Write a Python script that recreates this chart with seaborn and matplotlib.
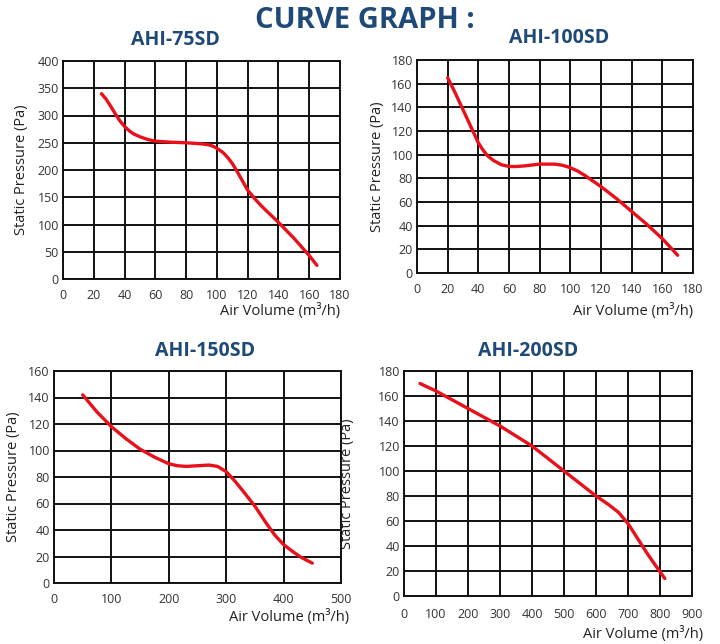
import matplotlib
matplotlib.use("Agg")
import matplotlib.pyplot as plt
import seaborn as sns
import pandas as pd

# values
x_75 = [25, 28, 31, 34, 37, 40, 43, 46, 50, 55, 60, 70, 80, 90, 95, 98, 101, 104, 107, 110, 113, 116, 120, 125, 130, 140, 150, 160, 165]
y_75 = [340, 330, 317, 303, 290, 280, 272, 266, 261, 256, 253, 251, 250, 248, 246, 243, 238, 232, 223, 212, 198, 183, 163, 146, 131, 104, 75, 43, 25]

x_100 = [20, 25, 30, 35, 40, 43, 46, 50, 55, 60, 65, 70, 80, 90, 95, 100, 105, 110, 120, 130, 140, 150, 160, 170]
y_100 = [165, 152, 138, 124, 110, 104, 99, 95, 91.5, 90, 90, 90.5, 92, 92, 91, 89, 86, 82, 73, 63, 52, 41, 29, 15]

x_150 = [50, 75, 100, 125, 150, 175, 200, 215, 230, 250, 270, 285, 300, 315, 330, 350, 370, 385, 400, 415, 430, 450]
y_150 = [142, 129, 118, 109, 101, 95, 90, 88.5, 88, 88.5, 89, 88, 84, 77, 69, 58, 45, 36, 29, 24, 19.5, 15]

x_200 = [50, 100, 200, 300, 350, 400, 450, 500, 550, 600, 640, 670, 700, 730, 760, 790, 815]
y_200 = [170, 164, 150, 136, 128, 120, 110, 100, 90, 80, 73, 67, 58, 46, 34, 23, 14]

titles = ["AHI-75SD", "AHI-100SD", "AHI-150SD", "AHI-200SD"]
x_ticks = [range(0, 181, 20), range(0, 181, 20), range(0, 501, 100), range(0, 901, 100)]
y_ticks = [range(0, 401, 50), range(0, 181, 20), range(0, 161, 20), range(0, 181, 20)]

sns.set_style("white")
plt.rcParams['font.family'] = ['Open Sans', 'DejaVu Sans']

W, H = 720, 644
fig = plt.figure(figsize=(7.2, 6.44), dpi=100)
navy = "#1f4a78"

fig.text(365 / W, 1 - 20 / H, "CURVE GRAPH :", ha="center", va="center",
         fontsize=21, fontweight="bold", color=navy)

# axes boxes in pixels: left, top, right, bottom
boxes = [(63, 61, 340, 279), (417, 60, 693, 273), (54, 371, 341, 583), (404, 371, 692, 596)]
title_pos = [(175, 40), (559, 38), (205, 351), (528, 351)]
xlabel_pos = [(340, 311), (693, 311), (349, 617), (703, 634)]
ylabel_x = [22, 378, 14, 347]
data = [(x_75, y_75), (x_100, y_100), (x_150, y_150), (x_200, y_200)]

for i in range(4):
    l, t, r, b = boxes[i]
    ax = fig.add_axes([l / W, 1 - b / H, (r - l) / W, (b - t) / H])
    df = pd.DataFrame({"x": data[i][0], "y": data[i][1]})
    sns.lineplot(data=df, x="x", y="y", ax=ax, color="#e8101a", linewidth=2.4, zorder=5)
    ax.lines[-1].set_solid_joinstyle("round")
    xt, yt = list(x_ticks[i]), list(y_ticks[i])
    ax.set_xlim(xt[0], xt[-1])
    ax.set_ylim(yt[0], yt[-1])
    ax.set_xticks(xt)
    ax.set_yticks(yt)
    ax.grid(True, color="#111111", linewidth=1.4)
    for s in ax.spines.values():
        s.set_color("#111111")
        s.set_linewidth(1.4)
    ax.tick_params(length=0, labelsize=9, colors="#333333")
    ax.tick_params(axis="x", pad=7 if i < 3 else 9)
    ax.tick_params(axis="y", pad=3)
    ax.set_xlabel("")
    ax.set_ylabel("")
    fig.text(title_pos[i][0] / W, 1 - title_pos[i][1] / H, titles[i], ha="center", va="center",
             fontsize=14, fontweight="bold", color=navy)
    fig.text(xlabel_pos[i][0] / W, 1 - xlabel_pos[i][1] / H, "Air Volume (m³/h)", ha="right",
             va="center", fontsize=10.5, color="#222222")
    fig.text(ylabel_x[i] / W, 1 - ((t + b) / 2) / H, "Static Pressure (Pa)", ha="center",
             va="center", rotation=90, fontsize=10.5, color="#222222")

plt.savefig("out.png", dpi=100)
